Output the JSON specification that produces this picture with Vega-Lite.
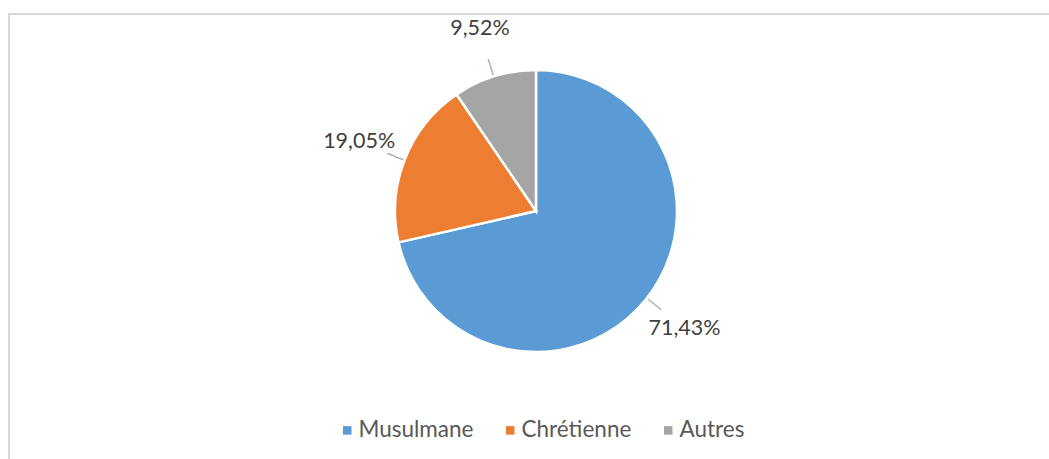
{
  "$schema": "https://vega.github.io/schema/vega-lite/v6.json",
  "width": 1100,
  "height": 500,
  "autosize": {"type": "none"},
  "padding": {"left": 9, "top": 14, "right": 0, "bottom": 0},
  "background": "white",
  "view": {"stroke": "#D9D9D9", "strokeWidth": 2, "fill": "white"},
  "config": {"font": "Lato"},
  "data": {
    "values": [
      {"cat": "Musulmane", "pct": 71.43, "label": "71,43%", "order": 1},
      {"cat": "Chrétienne", "pct": 19.05, "label": "19,05%", "order": 2},
      {"cat": "Autres", "pct": 9.52, "label": "9,52%", "order": 3}
    ]
  },
  "layer": [
    {
      "mark": {"type": "arc", "x": 527, "y": 197, "outerRadius": 141, "stroke": "white", "strokeWidth": 2.5},
      "encoding": {
        "theta": {"field": "pct", "type": "quantitative", "stack": true, "scale": {"domain": [0, 100]}},
        "order": {"field": "order", "type": "quantitative"},
        "color": {
          "field": "cat",
          "type": "nominal",
          "sort": ["Musulmane", "Chrétienne", "Autres"],
          "scale": {"domain": ["Musulmane", "Chrétienne", "Autres"], "range": ["#5B9BD5", "#ED7D31", "#A5A5A5"]},
          "legend": {
            "title": null,
            "orient": "none",
            "legendX": 327,
            "legendY": 405,
            "direction": "horizontal",
            "symbolType": "square",
            "symbolSize": 72,
            "symbolStrokeWidth": 0,
            "labelFontSize": 22.5,
            "labelColor": "#595959",
            "labelFont": "Lato",
            "labelOffset": 0,
            "columnPadding": 25
          }
        }
      }
    },
    {
      "transform": [
        {"stack": "pct", "groupby": [], "sort": [{"field": "order", "order": "ascending"}], "as": ["s0", "s1"]},
        {"fold": ["s0", "s1"], "as": ["k", "v"]},
        {"aggregate": [{"op": "mean", "field": "v", "as": "mid"}], "groupby": ["cat"]}
      ],
      "mark": {"type": "text", "text": "──", "x": 527, "y": 197, "radius": 151, "font": "DejaVu Sans", "fontSize": 14, "color": "#A5A5A5", "align": "center", "baseline": "middle"},
      "encoding": {
        "theta": {"field": "mid", "type": "quantitative", "stack": null, "scale": {"domain": [0, 100]}},
        "angle": {"field": "mid", "type": "quantitative", "scale": {"domain": [0, 100], "range": [-90, 270]}}
      }
    },
    {
      "mark": {"type": "text", "x": 527, "y": 197, "radius": 190, "fontSize": 21.5, "color": "#404040", "font": "Lato", "align": "center", "baseline": "middle"},
      "encoding": {
        "theta": {"field": "pct", "type": "quantitative", "stack": true, "scale": {"domain": [0, 100]}},
        "order": {"field": "order", "type": "quantitative"},
        "text": {"field": "label", "type": "nominal"}
      }
    }
  ]
}
